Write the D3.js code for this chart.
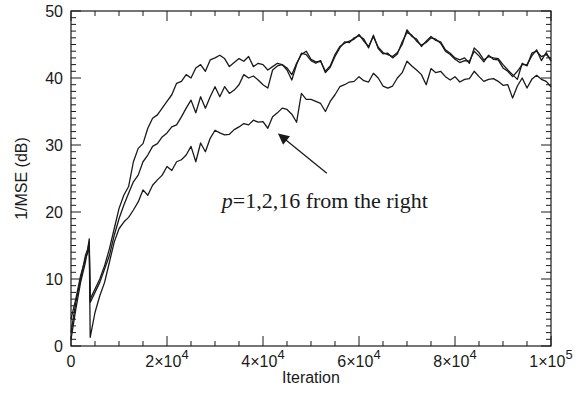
<!DOCTYPE html>
<html>
<head>
<meta charset="utf-8">
<script src="https://cdn.jsdelivr.net/npm/d3@7"></script>
<style>
    body { margin: 0; background: #fff; }
    svg { display: block; }
</style>
</head>
<body>
<div id="chart"></div>
<script>
// Sampling grid (iterations), finer around the early drop
const iterations = [0, 1000, 2000, 3000, 3500, 3800].concat(d3.range(4000, 100001, 1000));

// 1/MSE (dB), one array per p
const p16 = [2, 6.5, 10, 13.5, 14.5, 16, 7, 8.5, 10, 12, 14.5, 17.5, 20.5, 22.5, 23.8, 27.5,
    29.5, 30.2, 32.5, 34, 34.5, 35.5, 36.5, 37.5, 39.2, 39.5, 40.5, 40, 41.5, 42, 41, 42.7,
    43, 43.4, 42.9, 41.7, 42.3, 42.9, 42.5, 43.2, 41.7, 42.2, 42, 41.2, 41.7, 42.2, 42, 41.5,
    40.5, 42.2, 43.5, 44, 42.8, 42.4, 42.5, 41, 41.8, 43.5, 44.7, 45.2, 45.5, 45.8, 46.5, 45.5,
    44.7, 46.2, 44.6, 43.8, 43.5, 43.2, 43.8, 45, 47.2, 46.2, 45.8, 44.7, 45.5, 46.2, 45.6, 45.4,
    44.2, 43.7, 43, 42.7, 43, 42.2, 44.5, 43.8, 42.7, 43.2, 43, 42.9, 42, 41.2, 40.5, 39.8,
    42.2, 41.8, 43.7, 44, 43.2, 43.5, 42.8];

const p2 = [4, 7, 10.5, 13, 14, 14.8, 6.5, 8, 9.5, 11.5, 13.5, 16.5, 19, 21, 22.8, 24.5,
    25.5, 27.5, 28.5, 29.8, 30.2, 31.2, 31.8, 32.7, 33, 34.2, 35.5, 36.7, 34.8, 37.2, 35.5, 37.2,
    38.7, 37.2, 38.7, 37.7, 38.2, 39, 40.5, 40, 40.3, 39.7, 39, 38.5, 41.2, 41.8, 42, 41.2,
    39.7, 42, 43.7, 43.5, 42.6, 42.2, 42.6, 40.8, 41.6, 43.2, 44.5, 45.4, 45.3, 46, 46.3, 45.8,
    44.5, 46.4, 44.4, 43.6, 43.7, 43, 43.6, 45.4, 46.8, 46.4, 45.5, 44.9, 45.3, 46, 45.8, 45.2,
    44, 43.5, 42.8, 42.3, 42.6, 42.5, 44, 43.3, 42.4, 43.4, 42.8, 42.7, 41.5, 41, 40.2, 41,
    42, 42, 43.3, 44.2, 42.6, 43.8, 42.5];

const p1 = [1, 5.5, 9.5, 12.5, 14.5, 15.5, 1.3, 5, 7.5, 9.5, 12.5, 15.5, 17.5, 18.5, 19.2, 20.3,
    21.5, 23.3, 22.5, 24, 24.8, 25.5, 26.8, 26.2, 27.5, 27.8, 28.5, 29.8, 27.5, 30.3, 29, 31,
    32.2, 31.8, 31.5, 31.6, 32.3, 32.7, 33.2, 33, 33.7, 33.4, 33.5, 32.5, 34.2, 34.8, 35.5, 35.3,
    34.6, 33.4, 37.7, 36.8, 36.8, 36.5, 36.2, 35, 36.5, 37.5, 38.7, 39, 39.4, 39.5, 40.2, 39.6,
    39.4, 40.7, 40, 38.8, 38.5, 38.8, 40, 40.8, 42.5, 41.8, 41.2, 40.5, 39, 41.4, 40.8, 41,
    40.2, 39.7, 40.2, 39.4, 39.8, 39.9, 41, 40.2, 39.5, 39.8, 39.9, 39.5, 38.9, 39, 37, 38.8,
    40, 38.5, 39.8, 40.4, 39.8, 39.5, 38.7];

const yTicks = [0, 10, 20, 30, 40, 50];
const xTicks = [0, 20000, 40000, 60000, 80000, 100000];
const xTickLabels = [["0", ""], ["2×10", "4"], ["4×10", "4"], ["6×10", "4"], ["8×10", "4"], ["1×10", "5"]];

// Set up the SVG
const width = 586;
const height = 394;
const margin = { top: 11, right: 35, bottom: 48, left: 71 };

const svg = d3
    .select("#chart")
    .append("svg")
    .attr("width", width)
    .attr("height", height);

const x = d3.scaleLinear().domain([0, 100000]).range([margin.left, width - margin.right]);
const y = d3.scaleLinear().domain([0, 50]).range([height - margin.bottom, margin.top]);

const labelFont = "'Liberation Sans', 'DejaVu Sans', sans-serif";
const ink = "#1a1a1a";

// Curves
const line = d3
    .line()
    .x((d) => x(d[0]))
    .y((d) => y(d[1]));

[p1, p2, p16].forEach((series) => {
    const pts = iterations.map((it, i) => [it, series[i]]).filter((d) => d[1] !== undefined);
    svg.append("path")
        .datum(pts)
        .attr("d", line)
        .attr("fill", "none")
        .attr("stroke", ink)
        .attr("stroke-width", 1.3)
        .attr("stroke-linejoin", "round");
});

// Frame with inward ticks on all four sides
const x0 = x.range()[0], x1 = x.range()[1];
const y0 = y.range()[0], y1 = y.range()[1];

svg.append("rect")
    .attr("x", x0)
    .attr("y", y1)
    .attr("width", x1 - x0)
    .attr("height", y0 - y1)
    .attr("fill", "none")
    .attr("stroke", ink)
    .attr("stroke-width", 1.2);

const xMinor = d3.range(0, 100001, 5000);
const yMinor = d3.range(0, 51, 1);
const ticks = svg.append("g").attr("stroke", ink).attr("stroke-width", 1);

xMinor.forEach((v) => {
    const len = v % 20000 === 0 ? 10 : 5;
    ticks.append("line").attr("x1", x(v)).attr("x2", x(v)).attr("y1", y0).attr("y2", y0 - len);
    ticks.append("line").attr("x1", x(v)).attr("x2", x(v)).attr("y1", y1).attr("y2", y1 + len);
});

yMinor.forEach((v) => {
    const len = v % 10 === 0 ? 10 : 5;
    ticks.append("line").attr("y1", y(v)).attr("y2", y(v)).attr("x1", x0).attr("x2", x0 + len);
    ticks.append("line").attr("y1", y(v)).attr("y2", y(v)).attr("x1", x1).attr("x2", x1 - len);
});

// Y tick labels
svg.append("g")
    .selectAll("text")
    .data(yTicks)
    .enter()
    .append("text")
    .attr("x", x0 - 8)
    .attr("y", (d) => y(d))
    .attr("dy", "0.35em")
    .attr("text-anchor", "end")
    .style("font-family", labelFont)
    .style("font-size", "16px")
    .attr("fill", ink)
    .text((d) => d);

// X tick labels with superscript exponents
const xl = svg.append("g")
    .selectAll("text")
    .data(xTicks)
    .enter()
    .append("text")
    .attr("x", (d) => x(d))
    .attr("y", y0 + 21)
    .attr("text-anchor", "middle")
    .style("font-family", labelFont)
    .style("font-size", "16px")
    .attr("fill", ink);

xl.append("tspan").text((d, i) => xTickLabels[i][0]);
xl.append("tspan")
    .attr("dy", -8)
    .style("font-size", "13px")
    .text((d, i) => xTickLabels[i][1]);

// Axis titles
svg.append("text")
    .attr("x", (x0 + x1) / 2)
    .attr("y", y0 + 37)
    .attr("text-anchor", "middle")
    .style("font-family", labelFont)
    .style("font-size", "16px")
    .attr("fill", ink)
    .text("Iteration");

svg.append("text")
    .attr("transform", `translate(27, ${(y0 + y1) / 2}) rotate(-90)`)
    .attr("text-anchor", "middle")
    .style("font-family", labelFont)
    .style("font-size", "16px")
    .attr("fill", ink)
    .text("1/MSE (dB)");

// Annotation arrow and text
svg.append("defs")
    .append("marker")
    .attr("id", "head")
    .attr("viewBox", "0 0 10 10")
    .attr("refX", 9)
    .attr("refY", 5)
    .attr("markerWidth", 16)
    .attr("markerHeight", 11)
    .attr("markerUnits", "userSpaceOnUse")
    .attr("orient", "auto")
    .append("path")
    .attr("d", "M0,0 L10,5 L0,10 z")
    .attr("fill", ink);

svg.append("line")
    .attr("x1", x(53300))
    .attr("y1", y(25.8))
    .attr("x2", x(43300))
    .attr("y2", y(31.6))
    .attr("stroke", ink)
    .attr("stroke-width", 1.3)
    .attr("marker-end", "url(#head)");

const note = svg.append("text")
    .attr("x", x(31400))
    .attr("y", y(20.6))
    .style("font-family", "'Liberation Serif', 'DejaVu Serif', serif")
    .style("font-size", "22px")
    .attr("fill", ink);

note.append("tspan").style("font-style", "italic").text("p");
note.append("tspan").text("=1,2,16 from the right");
</script>
</body>
</html>
